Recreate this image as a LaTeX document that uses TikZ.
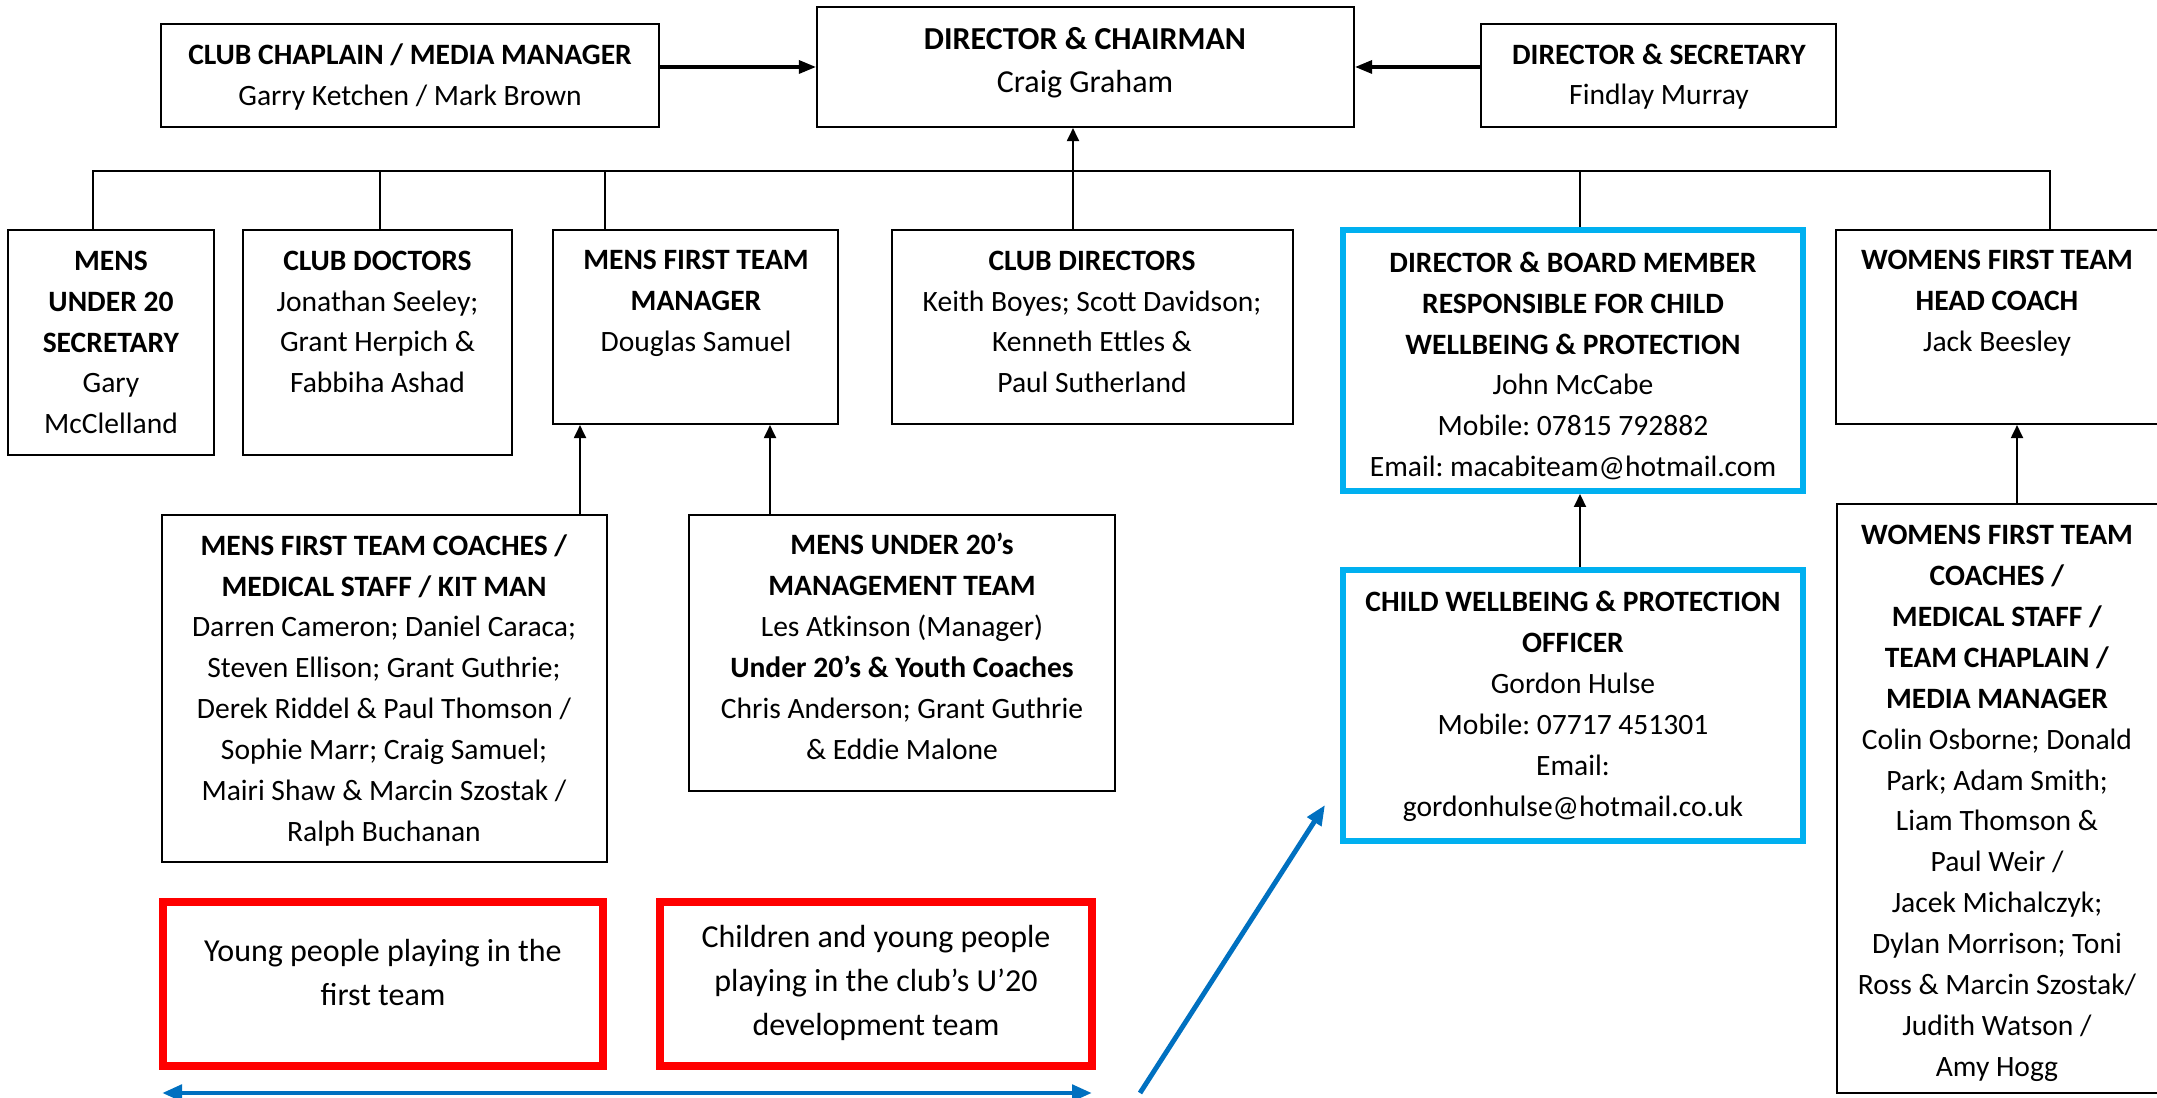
\documentclass[tikz,border=0pt]{standalone}
\usepackage{fontspec}
\setmainfont{Carlito}
\frenchspacing
\usetikzlibrary{arrows.meta,fit,calc}
\definecolor{boxblue}{HTML}{00B0F0}
\definecolor{arrblue}{HTML}{0070C0}
\definecolor{boxred}{HTML}{FF0000}
\begin{document}
\begin{tikzpicture}[x=0.01cm,y=-0.01cm,
  box/.style={draw=black,line width=0.6pt,inner sep=0pt},
  bluebox/.style={draw=boxblue,line width=1.7pt,inner sep=0pt},
  redbox/.style={draw=boxred,line width=2.3pt,inner sep=0pt},
  txt/.style={align=center,inner sep=0pt,yshift=-0.06cm,font=\fontsize{8.4}{11.62}\selectfont,
    execute at begin node=\strut,execute at end node=\strut},
  wtxt/.style={txt,font=\fontsize{9.1}{12.4}\selectfont},
  conn/.style={draw=black,line width=0.55pt},
  arr/.style={conn,-{Triangle[length=0.13cm,width=0.12cm]}},
  bigarr/.style={draw=black,line width=0.9pt,-{Triangle[length=0.17cm,width=0.13cm]}},
  barr/.style={draw=arrblue,line width=1.4pt,-{Triangle[length=0.2cm,width=0.16cm]}}
]
\useasboundingbox (0,0) rectangle (2157,1098);
\clip (0,0) rectangle (2157,1098);

% boxes
\node[box,fit={(161,24)(659,127)}] (chap) {};
\node[box,fit={(817,7)(1354,127)}] (chair) {};
\node[box,fit={(1481,24)(1836,127)}] (sec) {};
\node[box,fit={(8,230)(214,455)}] (u20sec) {};
\node[box,fit={(243,230)(512,455)}] (doc) {};
\node[box,fit={(553,230)(838,424)}] (mftm) {};
\node[box,fit={(892,230)(1293,424)}] (dirs) {};
\node[bluebox,fit={(1343,230)(1803,491)}] (cwp) {};
\node[box,fit={(1836,230)(2165,424)}] (wfthc) {};
\node[box,fit={(162,515)(607,862)}] (mftc) {};
\node[box,fit={(689,515)(1115,791)}] (u20mt) {};
\node[bluebox,fit={(1343,570)(1803,841)}] (cwpo) {};
\node[box,fit={(1837,504)(2165,1093)}] (wftc) {};
\node[redbox,fit={(163,902)(603,1066)}] (red1) {};
\node[redbox,fit={(660,902)(1092,1066)}] (red2) {};

% texts
\node[txt] (chap-t) at (410,74.5) {\textbf{CLUB CHAPLAIN / MEDIA MANAGER}\\Garry Ketchen / Mark Brown};
\node[wtxt] (chair-t) at (1085,60.5) {\textbf{DIRECTOR \& CHAIRMAN}\\Craig Graham};
\node[txt] (sec-t) at (1659,74.5) {\textbf{DIRECTOR \& SECRETARY}\\Findlay Murray};
\node[txt] (u20sec-t) at (111,342.5) {\textbf{MENS}\\\textbf{UNDER 20}\\\textbf{SECRETARY}\\Gary\\McClelland};
\node[txt] (doc-t) at (377.5,322) {\textbf{CLUB DOCTORS}\\Jonathan Seeley;\\Grant Herpich \&\\Fabbiha Ashad};
\node[txt] (mftm-t) at (696,301) {\textbf{MENS FIRST TEAM}\\\textbf{MANAGER}\\Douglas Samuel};
\node[txt] (dirs-t) at (1092,322) {\textbf{CLUB DIRECTORS}\\Keith Boyes; Scott Davidson;\\Kenneth Ettles \&\\Paul Sutherland};
\node[txt] (cwp-t) at (1573,364.5) {\textbf{DIRECTOR \& BOARD MEMBER}\\\textbf{RESPONSIBLE FOR CHILD}\\\textbf{WELLBEING \& PROTECTION}\\John McCabe\\Mobile: 07815 792882\\Email: macabiteam@hotmail.com};
\node[txt] (wfthc-t) at (1997,301) {\textbf{WOMENS FIRST TEAM}\\\textbf{HEAD COACH}\\Jack Beesley};
\node[txt] (mftc-t) at (384,688) {\textbf{MENS FIRST TEAM COACHES /}\\\textbf{MEDICAL STAFF / KIT MAN}\\Darren Cameron; Daniel Caraca;\\Steven Ellison; Grant Guthrie;\\Derek Riddel \& Paul Thomson /\\Sophie Marr; Craig Samuel;\\Mairi Shaw \& Marcin Szostak /\\Ralph Buchanan};
\node[txt] (u20mt-t) at (902,646.5) {\textbf{MENS UNDER 20’s}\\\textbf{MANAGEMENT TEAM}\\Les Atkinson (Manager)\\\textbf{Under 20’s \& Youth Coaches}\\Chris Anderson; Grant Guthrie\\\& Eddie Malone};
\node[txt] (cwpo-t) at (1573,704) {\textbf{CHILD WELLBEING \& PROTECTION}\\\textbf{OFFICER}\\Gordon Hulse\\Mobile: 07717 451301\\Email:\\gordonhulse@hotmail.co.uk};
\node[txt] (wftc-t) at (1997,801) {\textbf{WOMENS FIRST TEAM}\\\textbf{COACHES /}\\\textbf{MEDICAL STAFF /}\\\textbf{TEAM CHAPLAIN /}\\\textbf{MEDIA MANAGER}\\Colin Osborne; Donald\\Park; Adam Smith;\\Liam Thomson \&\\Paul Weir /\\Jacek Michalczyk;\\Dylan Morrison; Toni\\Ross \& Marcin Szostak/\\Judith Watson /\\Amy Hogg};
\node[wtxt] (red1-t) at (383,973) {Young people playing in the\\first team};
\node[wtxt] (red2-t) at (876,981) {Children and young people\\playing in the club’s U’20\\development team};

% coordinates
\coordinate (bL) at (93,171);
\coordinate (bR) at (2050,171);
\coordinate (dDoc) at (380,171);
\coordinate (dMgr) at (605,171);
\coordinate (dDir) at (1073,171);
\coordinate (dCwp) at (1580,171);
\coordinate (aM1) at (580,0);
\coordinate (aM2) at (770,0);
\coordinate (aW) at (2017,0);
\coordinate (blA) at (162,1093);
\coordinate (blM) at (625,1093);
\coordinate (blB) at (1092,1093);
\coordinate (dgA) at (1140,1093);
\coordinate (dgB) at (1325,805);

% connectors
\draw[bigarr] (chap.east |- chair.west) -- (chair.west);
\draw[bigarr] (sec.west |- chair.east) -- (chair.east);
\draw[conn] (u20sec.north -| bL) -- (bL) -- (bR) -- (wfthc.north -| bR);
\draw[conn] (dDoc) -- (doc.north -| dDoc);
\draw[conn] (dMgr) -- (mftm.north -| dMgr);
\draw[conn] (dCwp) -- (cwp.north -| dCwp);
\draw[arr] (dirs.north -| dDir) -- (chair.south -| dDir);
\draw[arr] (mftc.north -| aM1) -- (mftm.south -| aM1);
\draw[arr] (u20mt.north -| aM2) -- (mftm.south -| aM2);
\draw[arr] (cwpo.north -| dCwp) -- (cwp.south -| dCwp);
\draw[arr] (wftc.north -| aW) -- (wfthc.south -| aW);
\draw[barr] (blM) -- (blA);
\draw[barr] (blM) -- (blB);
\draw[barr] (dgA) -- (dgB);
\end{tikzpicture}
\end{document}
